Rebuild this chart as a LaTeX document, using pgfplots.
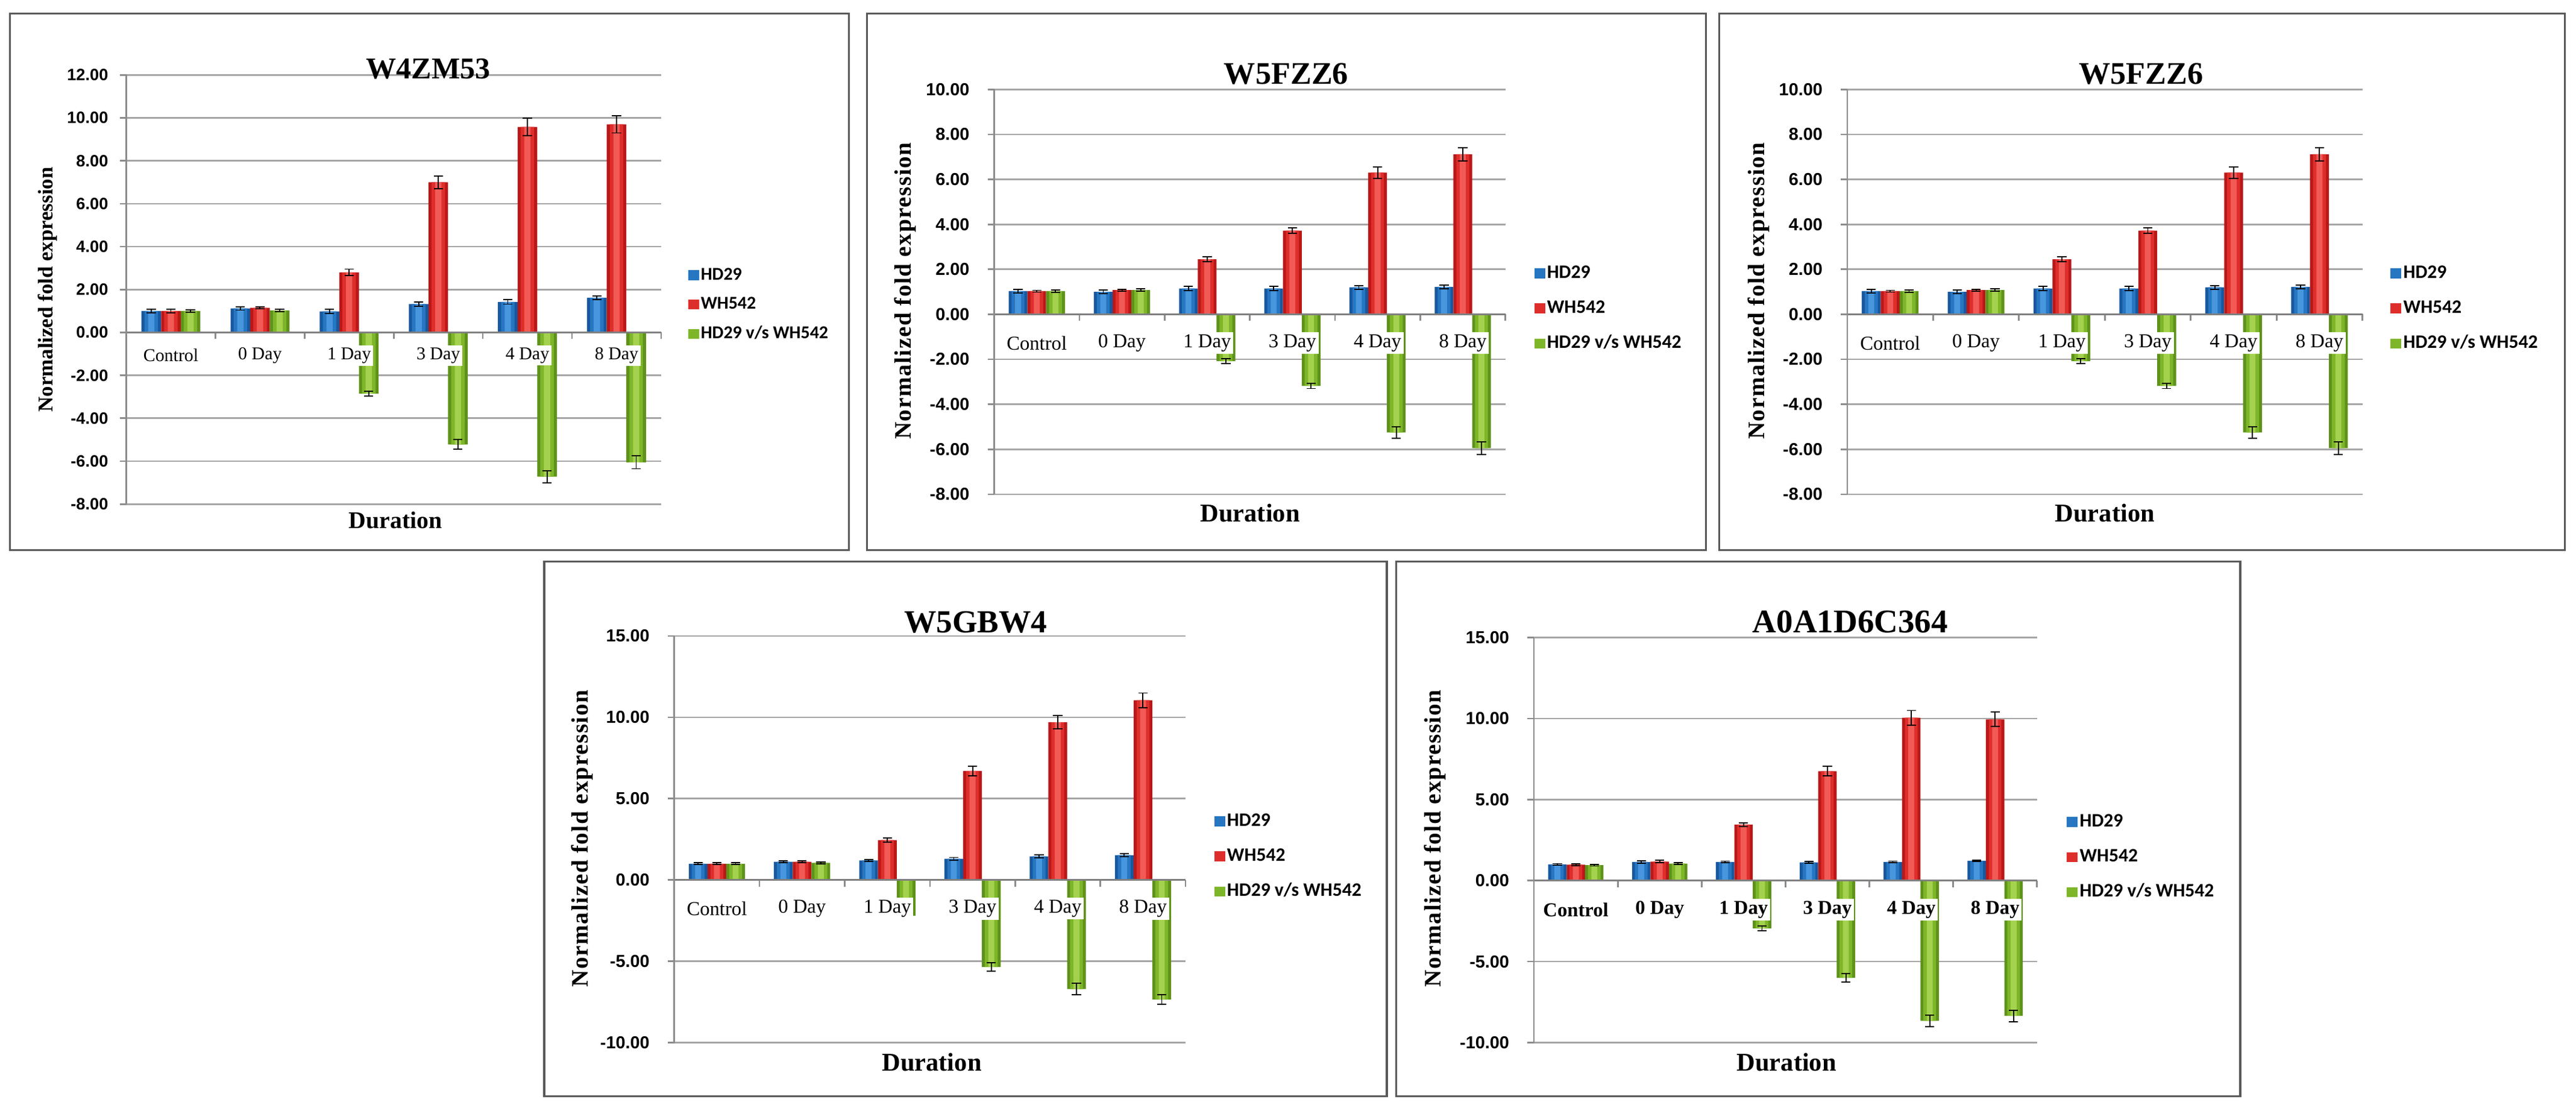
\documentclass[border=0pt]{standalone}
\usepackage{fontspec}
\setmainfont{Liberation Serif}
\newfontfamily\arialf{Liberation Sans}
\newfontfamily\calibri{Carlito}
\usepackage{pgfplots}
\pgfplotsset{compat=1.18}
\usepackage{pgfplotstable}
\newcommand\fs[1]{\fontsize{#1}{#1}\selectfont}

\definecolor{bD}{RGB}{24,88,158}
\definecolor{bM}{RGB}{38,118,194}
\definecolor{bL}{RGB}{72,150,222}
\definecolor{rD}{RGB}{185,24,24}
\definecolor{rM}{RGB}{222,46,44}
\definecolor{rL}{RGB}{242,90,86}
\definecolor{gD}{RGB}{94,146,26}
\definecolor{gM}{RGB}{126,182,42}
\definecolor{gL}{RGB}{164,210,78}

\pgfplotstableread{
x a ae b be c ce
0 1.00 0.08 1.00 0.08 1.00 0.05
1 1.12 0.08 1.15 0.05 1.02 0.05
2 0.98 0.10 2.80 0.15 -2.85 0.12
3 1.32 0.10 7.00 0.30 -5.22 0.22
4 1.42 0.10 9.58 0.40 -6.72 0.28
5 1.62 0.08 9.70 0.40 -6.05 0.30
}\tA
\pgfplotstableread{
x a ae b be c ce
0 1.03 0.08 1.03 0.04 1.03 0.05
1 1.00 0.08 1.08 0.04 1.08 0.05
2 1.15 0.10 2.45 0.10 -2.08 0.10
3 1.15 0.10 3.72 0.12 -3.18 0.12
4 1.20 0.08 6.30 0.25 -5.25 0.25
5 1.22 0.08 7.12 0.30 -5.95 0.28
}\tB
\pgfplotstableread{
x a ae b be c ce
0 1.03 0.08 1.03 0.04 1.03 0.05
1 1.00 0.08 1.08 0.04 1.08 0.05
2 1.15 0.10 2.45 0.10 -2.08 0.10
3 1.15 0.10 3.72 0.12 -3.18 0.12
4 1.20 0.08 6.30 0.25 -5.25 0.25
5 1.22 0.08 7.12 0.30 -5.95 0.28
}\tC
\pgfplotstableread{
x a ae b be c ce
0 1.00 0.05 1.00 0.05 1.00 0.05
1 1.12 0.05 1.12 0.05 1.05 0.05
2 1.20 0.06 2.45 0.12 -2.20 0.10
3 1.30 0.08 6.70 0.30 -5.35 0.25
4 1.45 0.10 9.70 0.40 -6.70 0.35
5 1.52 0.10 11.05 0.45 -7.35 0.30
}\tD
\pgfplotstableread{
x a ae b be c ce
0 1.00 0.05 0.98 0.05 0.95 0.05
1 1.15 0.08 1.17 0.08 1.05 0.05
2 1.15 0.05 3.45 0.12 -2.95 0.15
3 1.12 0.05 6.75 0.30 -6.00 0.25
4 1.15 0.05 10.05 0.45 -8.65 0.35
5 1.22 0.05 9.95 0.45 -8.35 0.35
}\tE

\pgfplotsset{
  layers/mine/.define layer set={axis background,axis grid,main,axis ticks,axis lines,axis tick labels,axis descriptions,axis foreground}{
    grid style={/pgfplots/on layer=axis grid},
    tick style={/pgfplots/on layer=axis ticks},
    axis line style={/pgfplots/on layer=axis lines},
    label style={/pgfplots/on layer=axis descriptions},
    legend style={/pgfplots/on layer=axis descriptions},
    title style={/pgfplots/on layer=axis descriptions},
    colorbar style={/pgfplots/on layer=axis descriptions},
    ticklabel style={/pgfplots/on layer=axis tick labels},
  },
  sq/.style={legend image code/.code={\fill[##1] (0pt,-1.5pt) rectangle (3.3pt,1.5pt);}},
  eb/.style={error bars/y dir=both, error bars/y explicit,
    error bars/error bar style={black, line width=0.35pt, xshift=#1},
    error bars/error mark options={rotate=90, black, mark size=1.4pt, line width=0.35pt}},
  common/.style={
    set layers=mine,
    scale only axis, anchor=south west,
    xmin=-0.5, xmax=5.5,
    axis x line=middle, axis y line=left,
    x axis line style={-, draw=black!50, line width=0.5pt},
    y axis line style={-, draw=black!45, line width=0.5pt},
    hide obscured x ticks=false, hide obscured y ticks=false,
    tick align=outside, major tick length=2pt,
    tick style={draw=black!45, line width=0.5pt},
    xtick={-0.5,0.5,1.5,2.5,3.5,4.5,5.5}, xticklabels={},
    extra x ticks={0,1,2,3,4,5},
    extra x tick labels={Control,0 Day,1 Day,3 Day,4 Day,8 Day},
    ymajorgrids, grid style={draw=black!35, line width=0.5pt},
    yticklabel style={/pgf/number format/fixed, /pgf/number format/fixed zerofill,
      /pgf/number format/precision=2, /pgf/number format/assume math mode=true},
    legend style={draw=none, fill=none, anchor=west, inner sep=0pt,
      nodes={inner sep=0.6pt, text height=3.8pt, text depth=1pt}},
    legend cell align=left,
    clip=false,
  },
  xl/.style n args={3}{extra x tick style={major tick length=0pt,
    xticklabel style={anchor=center, yshift=#1, fill=white, inner sep=0.7pt, font=#3\fs{#2}}}},
}
% one series: dark full-width bar, mid bar (legend entry), light core with error bars
\newcommand\series[7]{%
  \addplot[ybar, bar width=\bw, bar shift=#4, draw=none, fill=#5, forget plot] table[x=x,y=#2]{#1};
  \addplot[ybar, bar width=\bwm, bar shift=#4, draw=none, fill=#6, sq] table[x=x,y=#2]{#1};
  \addplot[ybar, bar width=\bwi, bar shift=#4, draw=none, fill=#7, forget plot, eb={#4}] table[x=x,y=#2,y error=#3]{#1};
}
\newcommand\allseries[1]{%
  \series{#1}{a}{ae}{-\bw}{bD}{bM}{bL}
  \series{#1}{b}{be}{0pt}{rD}{rM}{rL}
  \series{#1}{c}{ce}{\bw}{gD}{gM}{gL}
}

\begin{document}
\begin{tikzpicture}
% ---- Panel 1
\def\bw{5.98pt}\def\bwm{4.1pt}\def\bwi{1.9pt}
\begin{axis}[common, at={(38.5pt,-153.6pt)}, width=163pt, height=130.75pt,
  ymin=-8, ymax=12, ytick={-8,-6,...,12},
  yticklabel style={font=\arialf\bfseries\fs{5.0}},
  xl={-7pt}{5.5}{},
  legend style={at={(axis description cs:1,0.465)}, xshift=8pt, font=\calibri\bfseries\fs{5.5}, row sep=2.95pt}]
\allseries{\tA}
\legend{HD29,WH542,HD29 v/s WH542}
\end{axis}
% ---- Panel 2
\def\bw{5.71pt}\def\bwm{3.9pt}\def\bwi{1.8pt}
\begin{axis}[common, at={(303pt,-150.6pt)}, width=155.8pt, height=123.35pt,
  ymin=-8, ymax=10, ytick={-8,-6,...,10},
  yticklabel style={font=\arialf\bfseries\fs{5.3}, xshift=-2pt},
  xl={-8.75pt}{6.0}{},
  legend style={at={(axis description cs:1,0.459)}, xshift=8.6pt, font=\calibri\bfseries\fs{5.8}, row sep=4.7pt}]
\allseries{\tB}
\legend{HD29,WH542,HD29 v/s WH542}
\end{axis}
% ---- Panel 3
\def\bw{5.76pt}\def\bwm{3.95pt}\def\bwi{1.8pt}
\begin{axis}[common, at={(563pt,-150.6pt)}, width=157pt, height=123.35pt,
  ymin=-8, ymax=10, ytick={-8,-6,...,10},
  yticklabel style={font=\arialf\bfseries\fs{5.3}, xshift=-2pt},
  xl={-8.75pt}{6.0}{},
  legend style={at={(axis description cs:1,0.459)}, xshift=8.4pt, font=\calibri\bfseries\fs{5.8}, row sep=4.7pt}]
\allseries{\tC}
\legend{HD29,WH542,HD29 v/s WH542}
\end{axis}
% ---- Panel 4
\def\bw{5.71pt}\def\bwm{3.9pt}\def\bwi{1.8pt}
\begin{axis}[common, at={(205.5pt,-317.7pt)}, width=155.85pt, height=123.9pt,
  ymin=-10, ymax=15, ytick={-10,-5,...,15},
  yticklabel style={font=\arialf\bfseries\fs{5.3}, xshift=-2pt},
  xl={-8.75pt}{6.0}{},
  legend style={at={(axis description cs:1,0.458)}, xshift=8.55pt, font=\calibri\bfseries\fs{5.8}, row sep=4.7pt}]
\allseries{\tD}
\legend{HD29,WH542,HD29 v/s WH542}
\end{axis}
% ---- Panel 5
\def\bw{5.62pt}\def\bwm{3.85pt}\def\bwi{1.8pt}
\begin{axis}[common, at={(467.5pt,-317.7pt)}, width=153.35pt, height=123.45pt,
  ymin=-10, ymax=15, ytick={-10,-5,...,15},
  yticklabel style={font=\arialf\bfseries\fs{5.3}, xshift=-2pt},
  xl={-8.9pt}{6.0}{\bfseries},
  legend style={at={(axis description cs:1,0.458)}, xshift=8.9pt, font=\calibri\bfseries\fs{5.8}, row sep=4.7pt}]
\allseries{\tE}
\legend{HD29,WH542,HD29 v/s WH542}
\end{axis}

\begin{scope}[x=0.5pt, y=-0.5pt]
\draw[black!65, line width=0.6pt] (6,8.2) rectangle (517.5,335.3);
\draw[black!65, line width=0.6pt] (528.6,8.2) rectangle (1040,335.3);
\draw[black!65, line width=0.6pt] (1048,8.2) rectangle (1563.4,335.3);
\draw[black!65, line width=0.6pt] (331.7,342.3) rectangle (845.3,668);
\draw[black!65, line width=0.6pt] (851,342.3) rectangle (1365.6,668);
% titles
\node[font=\bfseries\fs{9.2}, anchor=base, inner sep=0pt] at (261,47.9) {W4ZM53};
\node[font=\bfseries\fs{9.6}, anchor=base, inner sep=0pt] at (784,51.3) {W5FZZ6};
\node[font=\bfseries\fs{9.6}, anchor=base, inner sep=0pt] at (1305,51.3) {W5FZZ6};
\node[font=\bfseries\fs{9.8}, anchor=base, inner sep=0pt] at (594.7,385.7) {W5GBW4};
\node[font=\bfseries\fs{10.1}, anchor=base, inner sep=0pt] at (1127.8,385.4) {A0A1D6C364};
% y labels
\node[font=\bfseries\fs{6.4}, rotate=90] at (29,176.5) {Normalized fold expression};
\node[font=\bfseries\fs{7.2}\addfontfeature{LetterSpace=4}, rotate=90] at (551.7,177.3) {Normalized fold expression};
\node[font=\bfseries\fs{7.2}\addfontfeature{LetterSpace=4}, rotate=90] at (1072,177.3) {Normalized fold expression};
\node[font=\bfseries\fs{7.2}\addfontfeature{LetterSpace=4}, rotate=90] at (355,511) {Normalized fold expression};
\node[font=\bfseries\fs{7.2}\addfontfeature{LetterSpace=4}, rotate=90] at (874.8,511) {Normalized fold expression};
% x labels
\node[font=\bfseries\fs{7.3}] at (241,317) {Duration};
\node[font=\bfseries\fs{7.8}] at (762,312.6) {Duration};
\node[font=\bfseries\fs{7.8}] at (1283,312.6) {Duration};
\node[font=\bfseries\fs{7.8}] at (568,647.3) {Duration};
\node[font=\bfseries\fs{7.8}] at (1089,647.3) {Duration};
\end{scope}
\pgfresetboundingbox
\path (0,0) rectangle (785.1pt,-337.6pt);
\end{tikzpicture}
\end{document}
